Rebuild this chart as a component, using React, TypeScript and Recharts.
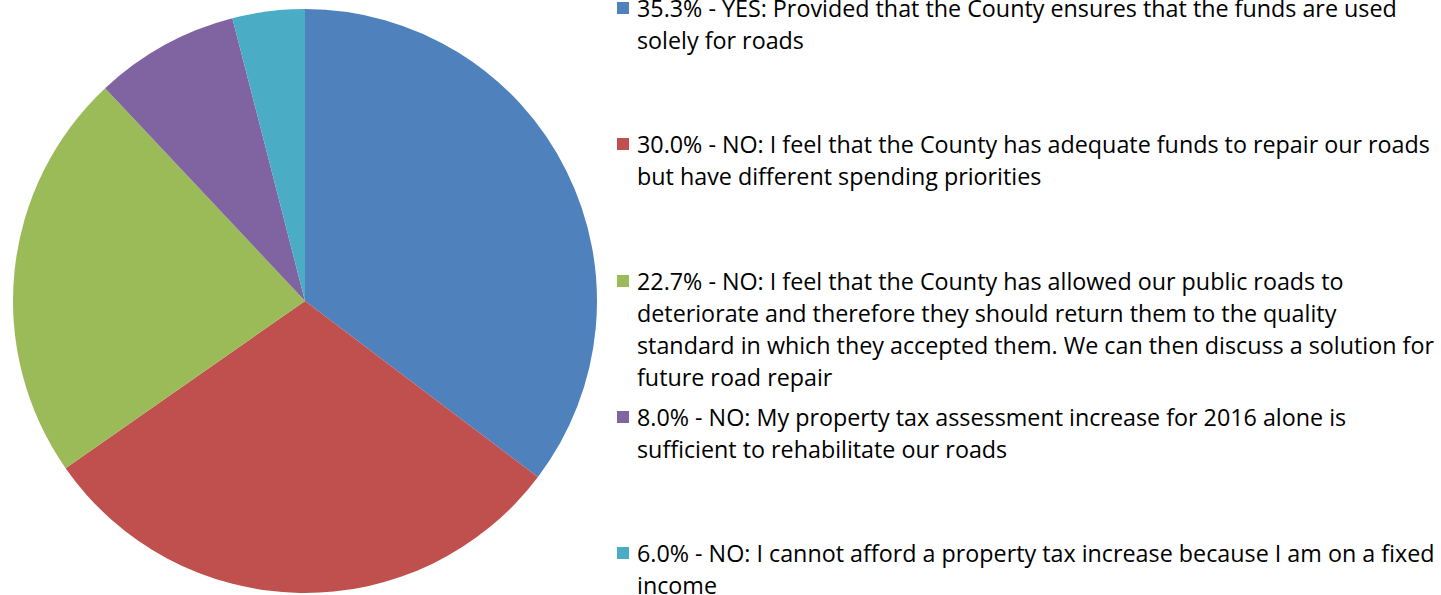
import { Pie, PieChart, Cell } from "recharts";

const categories = ["YES-roads", "NO-priorities", "NO-deteriorate", "NO-assessment", "NO-fixed"];
const shares = [35.3, 30.0, 22.7, 8.0, 4.0];
const colors = ["#4F81BD", "#C0504D", "#9BBB59", "#8064A2", "#4BACC6"];
const legendLines = [
  ["35.3% - YES: Provided that the County ensures that the funds are used", "solely for roads"],
  ["30.0% - NO: I feel that the County has adequate funds to repair our roads", "but have different spending priorities"],
  [
    "22.7% - NO: I feel that the County has allowed our public roads to",
    "deteriorate and therefore they should return them to the quality",
    "standard in which they accepted them. We can then discuss a solution for",
    "future road repair",
  ],
  ["8.0% - NO: My property tax assessment increase for 2016 alone is", "sufficient to rehabilitate our roads"],
  ["6.0% - NO: I cannot afford a property tax increase because I am on a fixed", "income"],
];

const data = categories.map((name, i) => ({ name, value: shares[i] }));

// legend drawn beside the pie, entries top-aligned in equal slots
function SideLegend() {
  return (
    <div style={{ position: "absolute", left: 617, top: 0, width: 824, height: 595, overflow: "hidden" }}>
      {legendLines.map((lines, i) => (
        <div
          key={categories[i]}
          style={{
            position: "absolute",
            left: 0,
            top: -8 + i * 136.3,
            fontFamily: "'Open Sans', sans-serif",
            fontSize: 23.3,
            lineHeight: "32px",
            color: "#000",
            whiteSpace: "nowrap",
          }}
        >
          <span
            style={{
              position: "absolute",
              left: 0,
              top: 10,
              width: 12,
              height: 12,
              background: colors[i],
            }}
          />
          <div style={{ paddingLeft: 20 }}>
            {lines.map((l) => (
              <div key={l}>{l}</div>
            ))}
          </div>
        </div>
      ))}
    </div>
  );
}

export default function App() {
  return (
    <div style={{ position: "fixed", left: 0, top: 0, width: 1441, height: 595, background: "#fff" }}>
      <PieChart width={610} height={595} margin={{ top: 0, right: 0, bottom: 0, left: 0 }}>
        <Pie
          data={data}
          dataKey="value"
          nameKey="name"
          cx={305}
          cy={301}
          outerRadius={292}
          startAngle={90}
          endAngle={-270}
          stroke="none"
          isAnimationActive={false}
        >
          {data.map((d, i) => (
            <Cell key={d.name} fill={colors[i]} />
          ))}
        </Pie>
      </PieChart>
      <SideLegend />
    </div>
  );
}
